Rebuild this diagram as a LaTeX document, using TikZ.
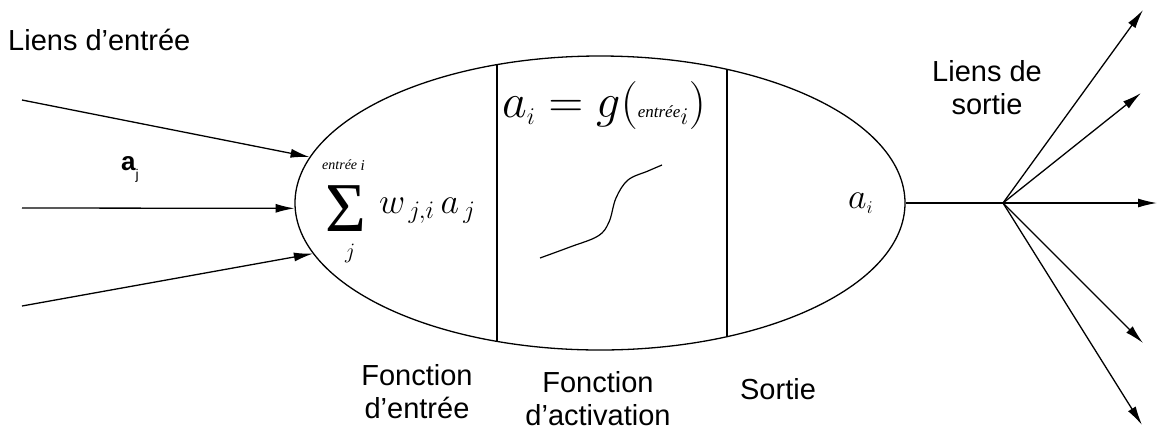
\RequirePackage{fix-cm}
\documentclass[tikz,border=0pt]{standalone}
\usepackage[no-math]{fontspec}
\setmainfont{Liberation Sans}
\newfontfamily\entfont{Liberation Serif}
\usetikzlibrary{shapes.geometric,arrows.meta}
\begin{document}
\begin{tikzpicture}[x=1pt,y=-1pt,
  lab/.style={font=\fontsize{29}{33}\selectfont, align=center, inner sep=0pt},
  conn/.style={line width=1.3pt},
  arr/.style={conn, -{Latex[length=19pt,width=9pt]}},
  mathlab/.style={inner sep=0pt, anchor=base west}]
\useasboundingbox (0,0) rectangle (1159,432);

% neuron body
\node[draw, ellipse, line width=1.3pt, minimum width=610pt, minimum height=294pt, inner sep=0pt] (neuron) at (600,203) {};

% separators
\coordinate (d1t) at (497,65);
\coordinate (d1b) at (497,341);
\coordinate (d2t) at (727,69);
\coordinate (d2b) at (727,337);
\draw[conn] (d1t) -- (d1b);
\draw[conn] (d2t) -- (d2b);

% input links
\coordinate (in1) at (22,100);
\coordinate (in2) at (22,208);
\coordinate (in3) at (22,306);
\draw[arr] (in1) -- (neuron.171);
\draw[arr] (in2) -- (neuron.181);
\draw[arr] (in3) -- (neuron.190);

% output links
\coordinate (hub) at (1003,203);
\coordinate (out1) at (1143,10);
\coordinate (out2) at (1141,93);
\coordinate (out3) at (1157,203);
\coordinate (out4) at (1143,343);
\coordinate (out5) at (1142,425);
\draw[conn] (neuron.east) -- (hub);
\foreach \o in {out1,out2,out3,out4,out5} \draw[arr] (hub) -- (\o);

% labels
\node[lab, anchor=base west] (lin) at (8,50) {Liens d'entrée};
\node[lab, anchor=north] (lout) at (987,60) {Liens de\\sortie};
\node[lab, anchor=north] (fin) at (417,364) {Fonction\\d'entrée};
\node[lab, anchor=north] (fact) at (598,371) {Fonction\\d'activation};
\node[lab, anchor=north] (sortie) at (778,378) {Sortie};

\node[mathlab] (aj) at (121,170) {\fontsize{26}{30}\selectfont\bfseries a\raisebox{-9pt}{\mdseries\fontsize{14}{14}\selectfont j}};

% input function: sum
\node[mathlab] (sumsup) at (322,169) {\fontsize{14}{16}\selectfont\entfont\itshape entrée \raisebox{-1pt}{\fontsize{15}{16}\selectfont i}};
\node[mathlab] (sigma) at (325,231) {\fontsize{70}{80}\selectfont\entfont Σ};
\node[mathlab] (sumsub) at (345,258) {\fontsize{22}{24}\selectfont $j$};
\node[mathlab] (sumterm) at (379,213) {\fontsize{36}{40}\selectfont $w_{\,j,i}\,a_{\,j}$};

% activation function
\node[mathlab] (gf) at (502,117) {\fontsize{48}{56}\selectfont
  $a_{\scriptscriptstyle i} = g(\mbox{\fontsize{17}{18}\selectfont\entfont\itshape entrée}_{\scriptscriptstyle i})$};

\node[mathlab] (ai) at (848,208) {\fontsize{36}{40}\selectfont $a_{\scriptscriptstyle i}$};

% activation curve
\draw[line width=1.2pt] plot[smooth, tension=0.6] coordinates {(540,258) (570,247) (598,236) (609,222) (616,198) (628,180) (648,171) (662,165)};
\end{tikzpicture}
\end{document}
